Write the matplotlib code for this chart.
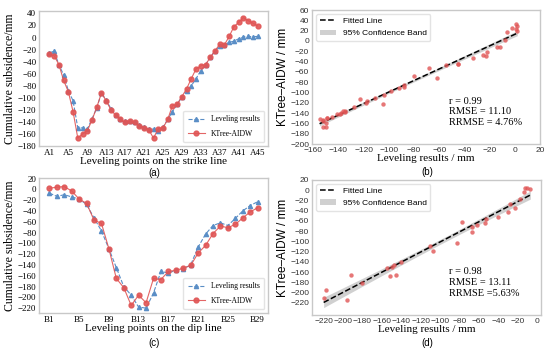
import matplotlib
matplotlib.use("Agg")
import matplotlib.pyplot as plt
import numpy as np

# strike line A1..A45
lev_a = [-25, -23, -45, -62, -88, -105, -150, -150, -152, -135, -117, -92, -104, -118, -128,
         -135, -139, -138, -141, -145, -149, -152, -152, -155, -149, -136, -123, -111, -98, -88,
         -80, -68, -55, -45, -33, -22, -14, -12, -8, -6, -2, 1, 2, 1, 2]
kt_a = [-28, -30, -45, -71, -90, -123, -167, -160, -155, -137, -116, -92, -105, -120, -129,
        -136, -141, -139, -141, -147, -150, -153, -167, -151, -150, -136, -113, -111, -98, -85,
        -68, -52, -47, -45, -33, -22, -11, -12, 2, 18, 25, 33, 28, 24, 19]

# dip line B1..B29
lev_c = [-7, -13, -10, -14, -18, -28, -53, -77, -110, -145, -180, -196, -218, -220, -192,
         -152, -155, -150, -147, -140, -107, -83, -67, -62, -67, -54, -40, -30, -23]
kt_c = [2, 4, 5, -3, -18, -26, -57, -63, -110, -165, -182, -215, -196, -210, -165,
        -167, -152, -150, -146, -141, -118, -104, -82, -68, -71, -65, -53, -42, -34]

names_a = ["A%d" % i for i in range(1, 46)]
names_c = ["B%d" % i for i in range(1, 30)]

stats_b = ["r = 0.99", "RMSE = 11.10", "RRMSE = 4.76%"]
stats_d = ["r = 0.98", "RMSE = 13.11", "RRMSE =5.63%"]

SERIF = "Liberation Serif"
SANS = "Liberation Sans"
BLUE = "#5a8ec6"
RED = "#e05555"
FRAME = "#c8c8c8"

fig = plt.figure(figsize=(5.5, 3.5), dpi=100)
W, H = 550.0, 350.0


def box(x0, y0, x1, y1):
    return [x0 / W, 1 - y1 / H, (x1 - x0) / W, (y1 - y0) / H]


def tag(x, y, s):
    fig.text(x / W, 1 - y / H, s, ha="center", va="center", family=SANS, fontsize=7)


def frame(ax):
    for s in ax.spines.values():
        s.set_color(FRAME)
        s.set_linewidth(1.0)
    ax.tick_params(length=0, pad=2)


def line_panel(rect, lev, kt, names, ylim, xlabel):
    ax = fig.add_axes(rect)
    x = np.arange(1, len(lev) + 1)
    ax.plot(x, lev, ls="--", lw=0.8, color=BLUE, marker="^", ms=3, label="Leveling results")
    ax.plot(x, kt, ls="-", lw=0.8, color=RED, marker="o", ms=3.5, alpha=0.9, label="KTree-AIDW")
    ax.set_xticks(x[::4])
    ax.set_xticklabels(names[::4])
    ax.set_yticks(np.arange(-220, 41, 20))
    ax.set_ylim(*ylim)
    for t in ax.get_xticklabels() + ax.get_yticklabels():
        t.set_fontfamily(SERIF)
        t.set_fontsize(6.5)
    ax.set_ylabel("Cumulative subsidence/mm", family=SERIF, fontsize=8.5, labelpad=1)
    ax.set_xlabel(xlabel, family=SERIF, fontsize=8, labelpad=0)
    leg = ax.legend(loc="lower right", prop={"family": SERIF, "size": 5.5},
                    frameon=True, borderpad=0.6, labelspacing=0.8, handlelength=2.2)
    leg.get_frame().set_edgecolor("#dddddd")
    frame(ax)
    return ax


def scatter_panel(rect, lev, kt, xlim, ylim, xticks, yticks, stats):
    ax = fig.add_axes(rect)
    x = np.array(lev, float)
    y = np.array(kt, float)
    n = len(x)
    k, b = np.polyfit(x, y, 1)
    xs = np.linspace(x.min(), x.max(), 100)
    fit = k * xs + b
    res = y - (k * x + b)
    s = np.sqrt(np.sum(res ** 2) / (n - 2))
    se = s * np.sqrt(1.0 / n + (xs - x.mean()) ** 2 / np.sum((x - x.mean()) ** 2))
    ax.fill_between(xs, fit - 2.0 * se, fit + 2.0 * se, color="#bdbdbd", alpha=0.7,
                    lw=0, label="95% Confidence Band")
    ax.plot(xs, fit, "k--", lw=1.1, label="Fitted Line")
    ax.scatter(x, y, s=10, color=RED, alpha=0.8, lw=0, zorder=3)
    ax.set_xlim(*xlim)
    ax.set_ylim(*ylim)
    ax.set_xticks(xticks)
    ax.set_yticks(yticks)
    for t in ax.get_xticklabels() + ax.get_yticklabels():
        t.set_fontfamily(SANS)
        t.set_fontsize(6)
        t.set_color("#333333")
    ax.set_ylabel("KTree\u2013AIDW / mm", family=SANS, fontsize=8.5, labelpad=1)
    ax.set_xlabel("Leveling results / mm", family=SERIF, fontsize=8, labelpad=0)
    h, l = ax.get_legend_handles_labels()
    leg = ax.legend(h[::-1], l[::-1], loc="upper left", prop={"family": SANS, "size": 6},
                    frameon=True, borderpad=0.4, labelspacing=0.5, handlelength=2.0)
    leg.get_frame().set_edgecolor("#dddddd")
    for i, st in enumerate(stats):
        ax.text(0.6, 0.32 - i * 0.08, st, transform=ax.transAxes, family=SERIF,
                fontsize=7.5, va="center")
    frame(ax)
    return ax


line_panel(box(39, 11, 268, 146), lev_a, kt_a, names_a, (-180, 44),
           "Leveling points on the strike line")
line_panel(box(39, 178, 268, 313), lev_c, kt_c, names_c, (-229, 21),
           "Leveling points on the dip line")
scatter_panel(box(312, 10, 540, 144), lev_a, kt_a, (-161, 20), (-200, 60),
              np.arange(-160, 21, 20), np.arange(-200, 61, 20), stats_b)
scatter_panel(box(312, 180, 541, 315), lev_c, kt_c, (-232, 4), (-244, 20),
              np.arange(-220, 1, 20), np.arange(-220, 21, 20), stats_d)

tag(154, 173, "(a)")
tag(427, 172, "(b)")
tag(154, 343, "(c)")
tag(427, 343, "(d)")

fig.savefig("out.png", dpi=100)
